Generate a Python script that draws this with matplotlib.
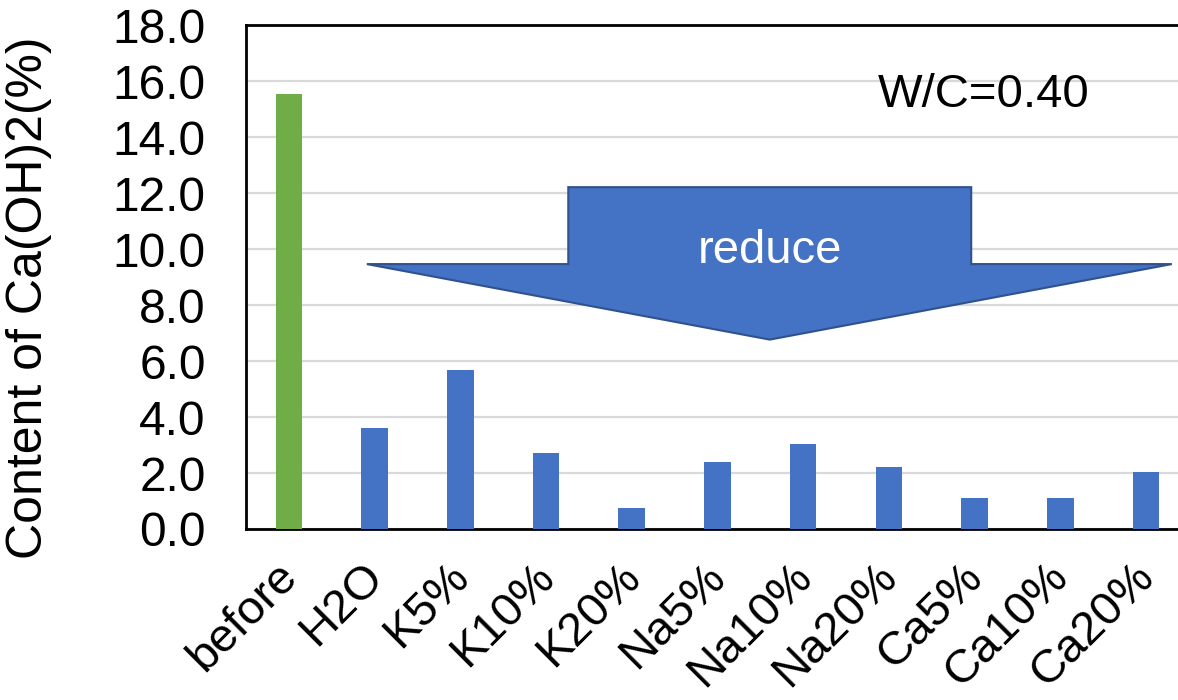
import matplotlib.pyplot as plt
from matplotlib.patches import Polygon
from matplotlib.transforms import ScaledTranslation

# data
categories = ["before", "H2O", "K5%", "K10%", "K20%", "Na5%", "Na10%",
              "Na20%", "Ca5%", "Ca10%", "Ca20%"]
ca_oh2 = [15.55, 3.6, 5.7, 2.7, 0.75, 2.4, 3.05, 2.22, 1.12, 1.12, 2.05]
bar_colors = ["#70AD47"] + ["#4472C4"] * 10
y_ticks = [0, 2, 4, 6, 8, 10, 12, 14, 16, 18]

plt.rcParams['font.family'] = ['Liberation Sans', 'DejaVu Sans']

fig = plt.figure(figsize=(11.78, 7), dpi=100)
ax = fig.add_axes([0.2088, 0.2443, 0.8005, 0.7193])

x = range(len(categories))
ax.bar(x, ca_oh2, width=0.31, color=bar_colors, zorder=3)

ax.set_xlim(-0.5, len(categories) - 0.5)
ax.set_ylim(0, 18)
ax.set_yticks(y_ticks)
ax.set_yticklabels(["%.1f" % v for v in y_ticks], fontsize=34.5)
ax.set_xticks(list(x))
ax.set_xticklabels(categories, fontsize=34, rotation=45, ha='right',
                   va='top', rotation_mode='anchor')
ax.tick_params(axis='both', length=0)
ax.tick_params(axis='y', pad=29)
ax.tick_params(axis='x', pad=12)

# nudge the slanted category labels a little left / down
shift = ScaledTranslation(-14 / 100, -9 / 100, fig.dpi_scale_trans)
for lbl in ax.get_xticklabels():
    lbl.set_transform(lbl.get_transform() + shift)

ax.set_ylabel("Content of Ca(OH)2(%)", fontsize=36)
ax.yaxis.set_label_coords(-0.206, 0.46)

ax.grid(axis='y', color='#d9d9d9', linewidth=1.6, zorder=0)
for s in ax.spines.values():
    s.set_linewidth(2)
    s.set_color('black')

# big "reduce" arrow
arrow = Polygon([(0.91, 9.47), (3.26, 9.47), (3.26, 12.22), (7.96, 12.22),
                 (7.96, 9.47), (10.3, 9.47), (5.61, 6.77)], closed=True,
                facecolor='#4472C4', edgecolor='#2F528F', linewidth=1.5,
                zorder=4, clip_on=False)
ax.add_patch(arrow)
ax.text(5.61, 9.95, "reduce", color='white', fontsize=34, ha='center',
        va='center', zorder=5)
ax.text(8.11, 15.5, "W/C=0.40", fontsize=34, ha='center', va='center',
        zorder=5)

plt.savefig('out.png', dpi=100)
